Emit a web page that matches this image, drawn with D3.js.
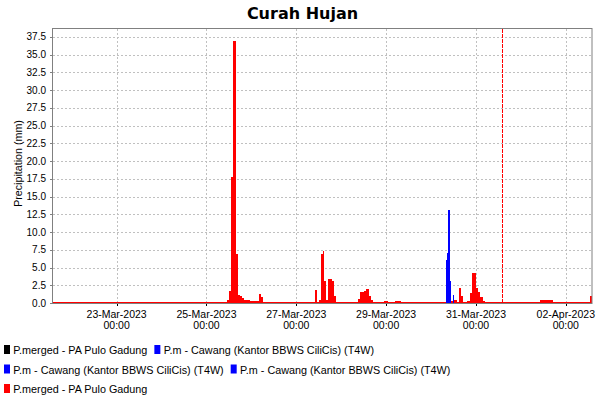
<!DOCTYPE html>
<html>
<head>
<meta charset="utf-8">
<script src="https://cdn.jsdelivr.net/npm/d3@7"></script>
<style>
  body { margin: 0; background: #fff; }
  svg { display: block; }
  text { font-family: "Liberation Sans", Arial, sans-serif; fill: #000; }
</style>
</head>
<body>
<div id="chart"></div>
<script>
const titleText = "Curah Hujan";
const yLabel = "Precipitation (mm)";
const xDomain = ["2023-03-21 14:00", "2023-04-02 14:00"];
const markerTime = "2023-03-31 14:00";
const xTicks = ["2023-03-23 00:00", "2023-03-25 00:00", "2023-03-27 00:00",
                "2023-03-29 00:00", "2023-03-31 00:00", "2023-04-02 00:00"];
const yTicks = [0, 2.5, 5, 7.5, 10, 12.5, 15, 17.5, 20, 22.5, 25, 27.5, 30, 32.5, 35, 37.5];

// P.merged - PA Pulo Gadung, hourly totals
const redSeries = [
  ["2023-03-25 11:00", 0.42], ["2023-03-25 12:00", 1.68], ["2023-03-25 13:00", 17.7],
  ["2023-03-25 14:00", 36.9], ["2023-03-25 15:00", 36.9], ["2023-03-25 16:00", 6.9],
  ["2023-03-25 17:00", 1.12], ["2023-03-25 18:00", 0.94], ["2023-03-25 19:00", 0.7],
  ["2023-03-25 20:00", 0.42], ["2023-03-25 21:00", 0.42], ["2023-03-25 22:00", 0.42],
  ["2023-03-25 23:00", 0.24], ["2023-03-26 00:00", 0.24], ["2023-03-26 01:00", 0.24],
  ["2023-03-26 02:00", 0.24], ["2023-03-26 03:00", 0.24], ["2023-03-26 04:00", 1.26],
  ["2023-03-26 05:00", 0.88],
  ["2023-03-27 10:00", 1.82], ["2023-03-27 12:00", 0.42], ["2023-03-27 13:00", 6.87],
  ["2023-03-27 14:00", 7.3], ["2023-03-27 15:00", 3.1], ["2023-03-27 16:00", 0.42],
  ["2023-03-27 17:00", 3.37], ["2023-03-27 18:00", 3.37], ["2023-03-27 19:00", 3.1],
  ["2023-03-27 20:00", 0.98],
  ["2023-03-28 09:00", 0.56], ["2023-03-28 10:00", 1.54], ["2023-03-28 11:00", 1.54],
  ["2023-03-28 12:00", 1.68], ["2023-03-28 13:00", 1.96], ["2023-03-28 14:00", 1.96],
  ["2023-03-28 15:00", 0.98], ["2023-03-28 16:00", 0.42],
  ["2023-03-28 23:00", 0.28], ["2023-03-29 00:00", 0.28],
  ["2023-03-29 05:00", 0.28], ["2023-03-29 06:00", 0.28], ["2023-03-29 07:00", 0.28],
  ["2023-03-30 10:00", 0.28], ["2023-03-30 11:00", 0.28], ["2023-03-30 12:00", 0.42],
  ["2023-03-30 13:00", 0.42], ["2023-03-30 15:00", 2.05], ["2023-03-30 16:00", 1.05],
  ["2023-03-30 19:00", 0.28], ["2023-03-30 20:00", 0.28], ["2023-03-30 21:00", 1.4],
  ["2023-03-30 22:00", 4.2], ["2023-03-30 23:00", 4.2], ["2023-03-31 00:00", 2.05],
  ["2023-03-31 01:00", 1.6], ["2023-03-31 02:00", 0.8], ["2023-03-31 03:00", 0.8],
  ["2023-03-31 04:00", 0.28],
  ["2023-04-01 10:00", 0.42], ["2023-04-01 11:00", 0.42], ["2023-04-01 12:00", 0.42],
  ["2023-04-01 13:00", 0.42], ["2023-04-01 14:00", 0.42], ["2023-04-01 15:00", 0.42],
  ["2023-04-01 16:00", 0.42],
  ["2023-04-02 13:00", 0.98]
];

// P.m - Cawang (Kantor BBWS CiliCis) (T4W), half-hourly
const blueSeries = [
  ["2023-03-30 08:00", 6.05], ["2023-03-30 08:30", 7.0], ["2023-03-30 09:00", 13.05],
  ["2023-03-30 09:30", 13.05], ["2023-03-30 10:00", 3.1], ["2023-03-30 11:30", 1.1]
];

const legendLabels = ["P.merged - PA Pulo Gadung", "P.m - Cawang (Kantor BBWS CiliCis) (T4W)",
  "P.m - Cawang (Kantor BBWS CiliCis) (T4W)", "P.m - Cawang (Kantor BBWS CiliCis) (T4W)",
  "P.merged - PA Pulo Gadung"];
const legendColors = ["#000000", "#0000ff", "#0000ff", "#0000ff", "#ff0000"];

const width = 600, height = 400;
const plotLeft = 53, plotRight = 592, plotTop = 29, plotBottom = 303;
const parse = d3.utcParse("%Y-%m-%d %H:%M");

const svg = d3.select("#chart").append("svg")
  .attr("width", width)
  .attr("height", height);

const x = d3.scaleUtc()
  .domain(xDomain.map(parse))
  .range([plotLeft, plotRight]);

const y = d3.scaleLinear()
  .domain([0, d3.max(redSeries.concat(blueSeries), d => d[1]) * 1.05])
  .range([plotBottom, plotTop - 1]);

// title
svg.append("text")
  .attr("x", 302.5)
  .attr("y", 18.5)
  .attr("text-anchor", "middle")
  .style("font-family", "'DejaVu Sans', sans-serif")
  .style("font-weight", "bold")
  .style("font-size", "16px")
  .text(titleText);

// grid
const grid = svg.append("g")
  .attr("stroke", "#c0c0c0")
  .attr("stroke-width", 1)
  .attr("stroke-dasharray", "2,2");

grid.selectAll(".hgrid")
  .data(yTicks.filter(d => d > 0))
  .join("line")
  .attr("x1", plotLeft).attr("x2", plotRight)
  .attr("y1", d => Math.round(y(d)) + 0.5)
  .attr("y2", d => Math.round(y(d)) + 0.5);

grid.selectAll(".vgrid")
  .data(xTicks.map(parse))
  .join("line")
  .attr("y1", plotTop).attr("y2", plotBottom)
  .attr("x1", d => Math.round(x(d)) + 0.5)
  .attr("x2", d => Math.round(x(d)) + 0.5);

// zero line of red series
svg.append("rect")
  .attr("x", plotLeft)
  .attr("y", plotBottom - 1)
  .attr("width", plotRight - plotLeft)
  .attr("height", 1.5)
  .attr("fill", "#ff0000");

const hour = 3600 * 1000;

svg.append("g")
  .attr("fill", "#ff0000")
  .attr("shape-rendering", "crispEdges")
  .selectAll("rect")
  .data(redSeries)
  .join("rect")
  .attr("x", d => x(parse(d[0])))
  .attr("width", d => x(new Date(+parse(d[0]) + hour)) - x(parse(d[0])))
  .attr("y", d => y(d[1]))
  .attr("height", d => y(0) - y(d[1]));

svg.append("g")
  .attr("fill", "#0000ff")
  .attr("shape-rendering", "crispEdges")
  .selectAll("rect")
  .data(blueSeries)
  .join("rect")
  .attr("x", d => x(parse(d[0])))
  .attr("width", d => x(new Date(+parse(d[0]) + hour / 2)) - x(parse(d[0])))
  .attr("y", d => y(d[1]))
  .attr("height", d => y(0) - y(d[1]));

// marker line
svg.append("line")
  .attr("x1", Math.round(x(parse(markerTime))) + 0.5)
  .attr("x2", Math.round(x(parse(markerTime))) + 0.5)
  .attr("y1", plotTop).attr("y2", plotBottom)
  .attr("stroke", "#ff0000")
  .attr("stroke-dasharray", "4,1");

// plot border
svg.append("rect")
  .attr("x", plotLeft - 0.5)
  .attr("y", plotTop - 0.5)
  .attr("width", plotRight - plotLeft + 0.5)
  .attr("height", plotBottom - plotTop + 1)
  .attr("fill", "none")
  .attr("stroke", "#808080");

// y axis ticks and labels
const yAxis = svg.append("g");
yAxis.selectAll("line")
  .data(yTicks)
  .join("line")
  .attr("x1", plotLeft - 3).attr("x2", plotLeft - 1)
  .attr("y1", d => Math.round(y(d)) + 0.5)
  .attr("y2", d => Math.round(y(d)) + 0.5)
  .attr("stroke", "#808080");
yAxis.selectAll("text")
  .data(yTicks)
  .join("text")
  .attr("x", 46)
  .attr("y", d => y(d) + 3.5)
  .attr("text-anchor", "end")
  .style("font-family", "'Liberation Sans Narrow', 'Liberation Sans', sans-serif")
  .style("font-size", "10px")
  .text(d3.format(".1f"));

svg.append("text")
  .attr("transform", "translate(22,163.5) rotate(-90)")
  .attr("text-anchor", "middle")
  .style("font-size", "10.7px")
  .text(yLabel);

// x axis ticks and labels
const xAxis = svg.append("g");
const fmtDay = d3.utcFormat("%d-%b-%Y"), fmtTime = d3.utcFormat("%H:%M");
xAxis.selectAll("line")
  .data(xTicks.map(parse))
  .join("line")
  .attr("x1", d => Math.round(x(d)) + 0.5)
  .attr("x2", d => Math.round(x(d)) + 0.5)
  .attr("y1", plotBottom + 1).attr("y2", plotBottom + 3)
  .attr("stroke", "#000");
const xl = xAxis.selectAll("text")
  .data(xTicks.map(parse))
  .join("text")
  .attr("text-anchor", "middle")
  .style("font-family", "'Liberation Sans Narrow', 'Liberation Sans', sans-serif")
  .style("font-size", "10.5px");
xl.append("tspan").attr("x", d => x(d)).attr("y", 317.5).text(fmtDay);
xl.append("tspan").attr("x", d => x(d)).attr("y", 329).text(fmtTime);

// legend, flowing left to right
const legend = svg.append("g");
let lx = 4, row = 0;
const rowTops = [345, 364.5, 384];
legendLabels.forEach((label, i) => {
  const g = legend.append("g");
  const t = g.append("text")
    .style("font-size", "10.8px")
    .text(label);
  const w = t.node().getComputedTextLength();
  if (lx + 9 + w > 575) { row++; lx = 4; }
  g.append("rect")
    .attr("x", lx).attr("y", rowTops[row])
    .attr("width", 6).attr("height", 9)
    .attr("fill", legendColors[i]);
  t.attr("x", lx + 9.3).attr("y", rowTops[row] + 9);
  lx += 9.3 + w + 7;
});
</script>
</body>
</html>
